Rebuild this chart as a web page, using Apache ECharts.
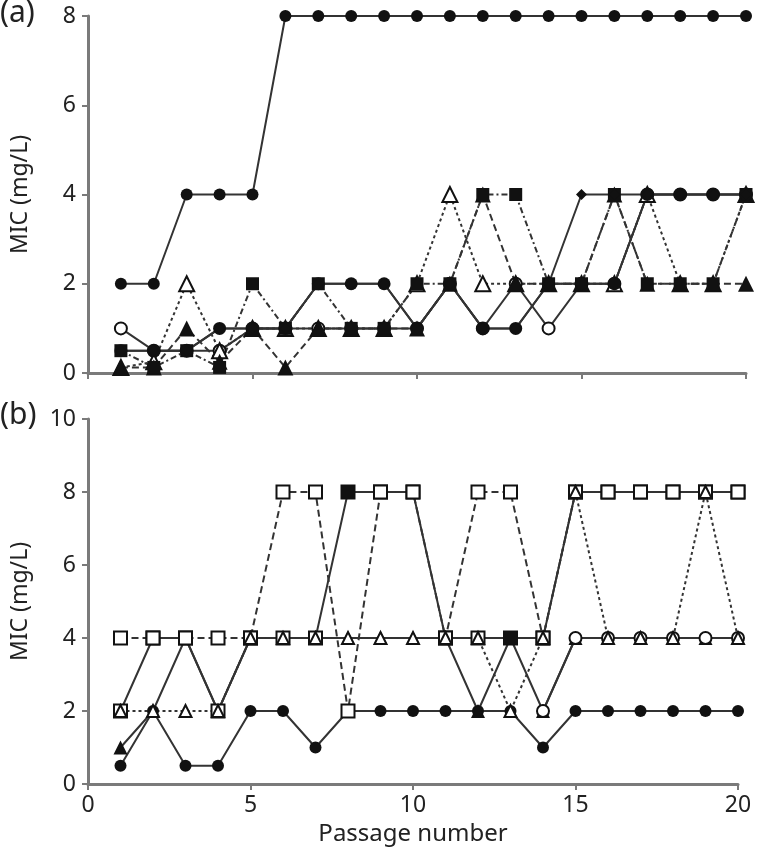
<!DOCTYPE html>
<html><head><meta charset="utf-8">
<script src="https://cdn.jsdelivr.net/npm/echarts@6/dist/echarts.min.js"></script>
<style>html,body{margin:0;padding:0;background:#fff}#c{width:757px;height:857px}</style>
</head><body><div id="c"></div>
<script>
// Passage numbers
const passages = [1,2,3,4,5,6,7,8,9,10,11,12,13,14,15,16,17,18,19,20];
const yTicksA = [0,2,4,6,8];
const yTicksB = [0,2,4,6,8,10];
const xTicks = [0,5,10,15,20];

// Panel (a) MIC values (mg/L)
const aFilledCircleTop = [2,2,4,4,4,8,8,8,8,8,8,8,8,8,8,8,8,8,8,8];
const aFilledCircle    = [0.5,0.5,0.5,1,1,1,2,2,2,1,2,1,1,2,2,2,4,4,4,4];
const aDiamond         = [0.5,0.5,0.5,1,1,1,2,2,2,1,2,1,1,2,4,4,4,4,4,4];
const aOpenCircle      = [1,0.5,0.5,0.5,1,1,1,1,1,1,2,1,2,1,2,2,4,4,4,4];
const aFilledTriangle  = [0.125,0.125,1,0.25,1,0.125,1,1,1,1,2,4,2,2,2,4,2,2,2,2];
const aFilledSquare    = [0.5,0.125,0.5,0.125,2,1,2,1,1,2,2,4,4,2,2,4,2,2,2,4];
const aOpenTriangle    = [0.125,0.25,2,0.5,1,1,1,1,1,2,4,2,2,2,2,2,4,2,2,4];

// Panel (b) MIC values (mg/L)
const bFilledCircle    = [0.5,2,0.5,0.5,2,2,1,2,2,2,2,2,2,1,2,2,2,2,2,2];
const bFilledTriangle  = [1,2,4,2,4,4,4,4,4,4,4,2,4,2,4,4,4,4,4,4];
const bSquareSolid     = [2,4,4,2,4,4,4,8,8,8,4,4,4,4,8,8,8,8,8,8];
const bSquareFilledPts = [null,null,null,null,null,null,null,8,null,null,null,null,4,null,null,null,null,null,null,null];
const bOpenSquare      = [4,4,4,4,4,8,8,2,8,8,4,8,8,4,8,8,8,8,8,8];
const bOpenCircle      = [null,null,null,null,null,null,null,null,null,null,null,null,null,2,4,4,4,4,4,4];
const bOpenTriangle    = [2,2,2,2,4,4,4,4,4,4,4,4,2,4,8,4,4,4,8,4];

const FONT = 'Noto Sans';
const LINE = '#333';
const AX = '#7a7a7a';
const pair = arr => passages.map((p,i)=>[p,arr[i]]);

function ser(name, data, idx, symbol, filled, dash, size){
  return {
    name, type:'line', xAxisIndex:idx, yAxisIndex:idx, data:pair(data),
    symbol, symbolSize:size, showSymbol:true, connectNulls:false,
    lineStyle:{color:LINE, width: dash===null ? 0 : 2, type: dash===null ? 'solid' : dash},
    itemStyle:{color: filled ? '#111' : '#fff', borderColor:'#111', borderWidth: filled?0:2},
    emphasis:{disabled:true}, animation:false, z: 2
  };
}
const SOLID='solid', DASH=[7,4], DOT=[3,3], DASHDOT=[6,3,2,3];

const axisCommon = {
  axisLine:{show:true, lineStyle:{color:AX, width:3}},
  axisTick:{show:true, inside:false, length:6, lineStyle:{color:AX, width:2}},
  splitLine:{show:false},
  axisLabel:{fontFamily:FONT, fontSize:23, color:'#222'}
};

const option = {
  backgroundColor:'#fff',
  animation:false,
  grid:[
    {left:88, right:11, top:16, bottom:484},
    {left:88, right:19, top:419, bottom:73}
  ],
  xAxis:[
    Object.assign({}, axisCommon, {gridIndex:0, type:'value', min:0, max:20, interval:5,
      axisLabel:{show:false}}),
    Object.assign({}, axisCommon, {gridIndex:1, type:'value', min:0, max:20, interval:5,
      name:'Passage number', nameLocation:'middle', nameGap:38,
      nameTextStyle:{fontFamily:FONT, fontSize:24, color:'#222'},
      axisLabel:{fontFamily:FONT, fontSize:23, color:'#222', margin:10}})
  ],
  yAxis:[
    Object.assign({}, axisCommon, {gridIndex:0, type:'value', min:0, max:8, interval:2,
      name:'MIC (mg/L)', nameLocation:'middle', nameGap:56,
      nameTextStyle:{fontFamily:FONT, fontSize:23, color:'#222'},
      axisLabel:{fontFamily:FONT, fontSize:23, color:'#222', margin:12}}),
    Object.assign({}, axisCommon, {gridIndex:1, type:'value', min:0, max:10, interval:2,
      name:'MIC (mg/L)', nameLocation:'middle', nameGap:56,
      nameTextStyle:{fontFamily:FONT, fontSize:23, color:'#222'},
      axisLabel:{fontFamily:FONT, fontSize:23, color:'#222', margin:12}})
  ],
  graphic:[
    {type:'text', left:0, top:-2, style:{text:'(a)', font:'30px "Noto Sans"', fill:'#222'}},
    {type:'text', left:0, top:400, style:{text:'(b)', font:'30px "Noto Sans"', fill:'#222'}}
  ],
  series:[
    ser('a-fc-top', aFilledCircleTop, 0, 'circle', true, SOLID, 12),
    ser('a-oc', aOpenCircle, 0, 'circle', false, SOLID, 12),
    ser('a-ot', aOpenTriangle, 0, 'triangle', false, DOT, 15),
    ser('a-ft', aFilledTriangle, 0, 'triangle', true, DASH, 16),
    ser('a-fs', aFilledSquare, 0, 'rect', true, DASHDOT, 13),
    ser('a-fc', aFilledCircle, 0, 'circle', true, SOLID, 13),
    ser('a-d', aDiamond, 0, 'diamond', true, SOLID, 11),

    ser('b-fc', bFilledCircle, 1, 'circle', true, SOLID, 12),
    ser('b-ft', bFilledTriangle, 1, 'triangle', true, SOLID, 14),
    ser('b-ss', bSquareSolid, 1, 'rect', false, SOLID, 13),
    ser('b-fsp', bSquareFilledPts, 1, 'rect', true, null, 13),
    ser('b-os', bOpenSquare, 1, 'rect', false, DASH, 13),
    ser('b-oc', bOpenCircle, 1, 'circle', false, SOLID, 12),
    ser('b-ot', bOpenTriangle, 1, 'triangle', false, DOT, 12)
  ]
};
const chart = echarts.init(document.getElementById('c'), null, {renderer:'canvas'});
chart.setOption(option);
</script></body></html>
